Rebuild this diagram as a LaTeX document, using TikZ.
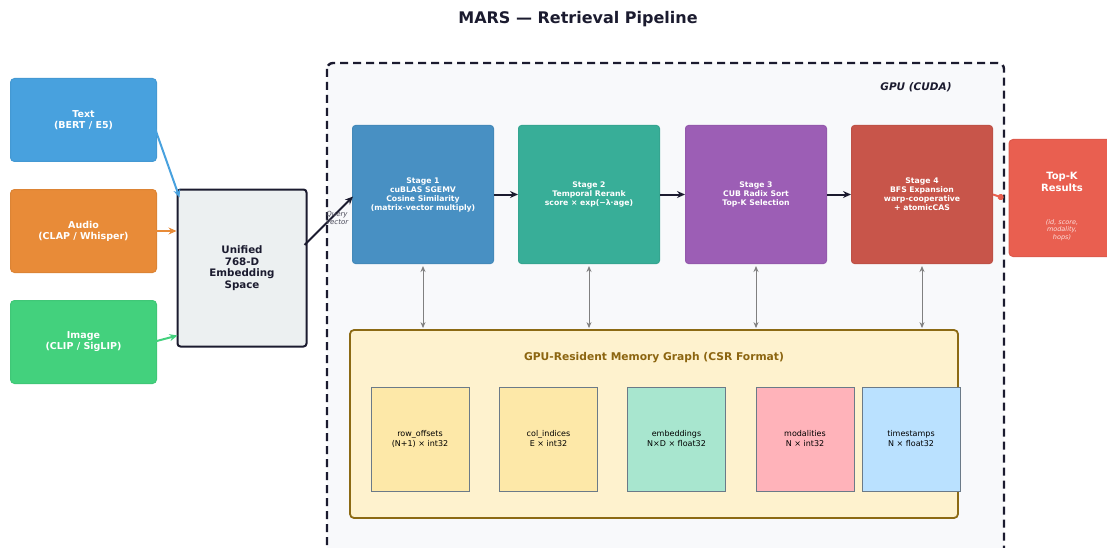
\documentclass[tikz,border=0pt]{standalone}
\usepackage{fontspec}
\setmainfont{DejaVu Sans}
\usetikzlibrary{arrows.meta}
\definecolor{navy}{HTML}{1B1B2F}
\definecolor{txtblue}{HTML}{48A1DE}
\definecolor{audorange}{HTML}{E88B38}
\definecolor{imggreen}{HTML}{43D17D}
\definecolor{unifgray}{HTML}{ECF0F1}
\definecolor{gpubg}{HTML}{F8F9FB}
\definecolor{stageone}{HTML}{4890C3}
\definecolor{stagetwo}{HTML}{38AE98}
\definecolor{stagethree}{HTML}{9C5EB5}
\definecolor{stagefour}{HTML}{C8554A}
\definecolor{topkred}{HTML}{E95F50}
\definecolor{memfill}{HTML}{FEF2CE}
\definecolor{memedge}{HTML}{8C6A14}
\definecolor{memtitle}{HTML}{8C6510}
\definecolor{csryellow}{HTML}{FDE8A8}
\definecolor{csrgreen}{HTML}{A8E6CF}
\definecolor{csrpink}{HTML}{FFB3BA}
\definecolor{csrblue}{HTML}{BAE1FF}
\definecolor{csredge}{HTML}{6B7A88}

\begin{document}
\begin{tikzpicture}[x=1pt,y=-1pt]
            \tikzset{srcbox/.style={rounded corners=4pt, text=white, align=center, inner sep=0pt, line width=1pt,
                minimum width=146pt, minimum height=83pt, font=\fontsize{9.5}{11}\selectfont\bfseries}}
            \tikzset{stagebox/.style={rounded corners=3pt, text=white, align=center, inner sep=0pt, line width=1pt,
                minimum width=141pt, minimum height=138pt, font=\fontsize{7.7}{9}\selectfont\bfseries}}
            \tikzset{csrbox/.style={draw=csredge, line width=1pt, align=center, inner sep=0pt,
                minimum width=98pt, minimum height=104pt, font=\fontsize{8}{10}\selectfont}}
            \tikzset{flow/.style={navy, line width=2pt, -{Stealth[length=8pt,width=7pt]}}}
            \tikzset{feed/.style={line width=2pt, -{Stealth[length=8pt,width=7pt]}}}
            \tikzset{access/.style={gray, line width=1pt, {Stealth[length=6pt,width=5pt]}-{Stealth[length=6pt,width=5pt]}}}
            \useasboundingbox (0,0) rectangle (1107,548);
            \clip (0,0) rectangle (1107,548);
            \node[font=\fontsize{16}{18}\selectfont\bfseries, text=navy] (title) at (578,19) {MARS — Retrieval Pipeline};
            \node[srcbox, fill=txtblue, draw=txtblue!95!black] (txt) at (83.5,120) {Text\\(BERT / E5)};
            \node[srcbox, fill=audorange, draw=audorange!95!black] (aud) at (83.5,231) {Audio\\(CLAP / Whisper)};
            \node[srcbox, fill=imggreen, draw=imggreen!95!black] (img) at (83.5,342) {Image\\(CLIP / SigLIP)};
            \node[draw=navy, line width=2pt, fill=unifgray, rounded corners=3pt, align=center, inner sep=0pt,
                minimum width=129pt, minimum height=157pt, text=navy,
                font=\fontsize{10.3}{11.5}\selectfont\bfseries] (unif) at (242,268) {Unified\\768-D\\Embedding\\Space};
            \draw[navy, fill=gpubg, line width=2.4pt, dash pattern=on 8pt off 5pt, rounded corners=6pt]
                (327,63) rectangle (1004,580);
            \node[font=\fontsize{10.5}{12}\selectfont\bfseries\itshape, text=navy] (gpulabel) at (916,87) {GPU (CUDA)};
            \node[stagebox, fill=stageone, draw=stageone!95!black] (s1) at (423,194.5) {Stage 1\\cuBLAS SGEMV\\Cosine Similarity\\(matrix-vector multiply)};
            \node[stagebox, fill=stagetwo, draw=stagetwo!95!black] (s2) at (589,194.5) {Stage 2\\Temporal Rerank\\score × exp(−λ·age)};
            \node[stagebox, fill=stagethree, draw=stagethree!95!black] (s3) at (756,194.5) {Stage 3\\CUB Radix Sort\\Top-K Selection};
            \node[stagebox, fill=stagefour, draw=stagefour!95!black] (s4) at (922,194.5) {Stage 4\\BFS Expansion\\warp-cooperative\\+ atomicCAS};
            \node[fill=topkred, draw=topkred!95!black, line width=1pt, rounded corners=4pt, minimum width=110pt, minimum height=117pt, inner sep=0pt] (topk) at (1064,198) {};
            \node[text=white, align=center, font=\fontsize{10}{12}\selectfont\bfseries] (topktitle) at (1062,182) {Top-K\\Results};
            \node[text=white!80!topkred, align=center, font=\fontsize{6.5}{7.5}\selectfont\itshape] (topknote) at (1062,230) {(id, score,\\modality,\\hops)};
            \draw[feed, txtblue] ([xshift=-5pt]txt.east) -- ([shift={(3,9)}]unif.north west);
            \draw[feed, audorange] ([xshift=-5pt]aud.east) -- (aud.east -| unif.west);
            \draw[feed, imggreen] ([xshift=-4pt]img.east) -- ([shift={(1,-12)}]unif.south west);
            \draw[flow] ([shift={(-3,-23)}]unif.east) -- ([shift={(1,2)}]s1.west);
            \node[align=center, text=navy!80, font=\fontsize{7}{8.5}\selectfont\itshape] (query) at (337,218) {Query\\Vector};
            \draw[flow] (s1) -- (s2);
            \draw[flow] (s2) -- (s3);
            \draw[flow] (s3) -- (s4);
            \draw[topkred, line width=2pt, -{Circle[length=6pt]}] (s4.east) -- ([xshift=-5pt]topk.west);
            \node[draw=memedge, line width=1.8pt, fill=memfill, rounded corners=4pt, inner sep=0pt,
                minimum width=608pt, minimum height=188pt] (mem) at (654,424) {};
            \node[text=memtitle, font=\fontsize{10.7}{12}\selectfont\bfseries] (memtitle) at (654,358) {GPU-Resident Memory Graph (CSR Format)};
            \foreach \s in {s1, s2, s3, s4} {
                \draw[access] ([yshift=-2pt]\s.south) -- ([yshift=1pt]\s.south |- mem.north);
            }
            \node[csrbox, fill=csryellow] (rowoff) at (420,439) {row\_offsets\\(N+1) × int32};
            \node[csrbox, fill=csryellow] (colidx) at (548.5,439) {col\_indices\\E × int32};
            \node[csrbox, fill=csrgreen] (embed) at (676.5,439) {embeddings\\N×D × float32};
            \node[csrbox, fill=csrpink] (modal) at (805,439) {modalities\\N × int32};
            \node[csrbox, fill=csrblue] (tstamp) at (911,439) {timestamps\\N × float32};
\end{tikzpicture}
\end{document}
